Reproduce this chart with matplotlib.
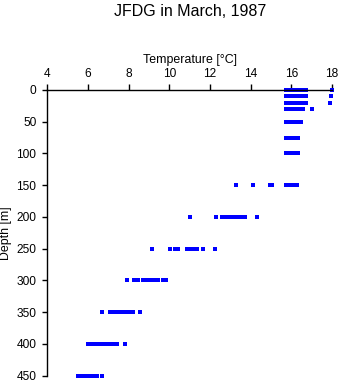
import matplotlib
matplotlib.use("Agg")
import matplotlib.pyplot as plt
import numpy as np

plt.rcParams['font.family'] = ['Liberation Sans', 'DejaVu Sans']

# Temperature profile samples (degC) at each depth level (m)
depths = [0, 10, 20, 30, 50, 75, 100, 150, 200, 250, 300, 350, 400, 450]

t_000 = [15.75, 15.85, 15.95, 16.05, 16.15, 16.25, 16.35, 16.5, 16.7, 18.0]
t_010 = [15.75, 15.82, 15.9, 15.97, 16.05, 16.12, 16.2, 16.27, 16.35, 16.5, 16.7, 17.95]
t_020 = [15.75, 15.85, 15.95, 16.05, 16.15, 16.25, 16.35, 16.5, 16.7, 17.9]
t_030 = [15.75, 15.85, 15.95, 16.05, 16.15, 16.25, 16.38, 16.5, 16.58, 17.0]
t_050 = [15.75, 15.85, 15.95, 16.05, 16.15, 16.25, 16.35, 16.45]
t_075 = [15.75, 15.85, 15.95, 16.05, 16.15, 16.25, 16.35]
t_100 = [15.75, 15.85, 15.95, 16.05, 16.15, 16.25, 16.35]
t_150 = [13.3, 14.1, 14.95, 15.05, 15.72, 15.82, 15.92, 16.02, 16.12, 16.22, 16.28]
t_200 = [11.0, 12.3, 12.6, 12.7, 12.85, 12.95, 13.1, 13.2, 13.35, 13.45, 13.6, 13.7, 14.3]
t_250 = [9.12, 10.05, 10.25, 10.4, 10.85, 11.0, 11.15, 11.25, 11.38, 11.63, 12.22]
t_300 = [7.9, 8.25, 8.45, 8.7, 8.8, 8.9, 9.0, 9.1, 9.2, 9.3, 9.45, 9.7, 9.85]
t_350 = [6.7, 7.1, 7.28, 7.38, 7.5, 7.62, 7.78, 7.9, 8.0, 8.1, 8.22, 8.53]
t_400 = [6.0, 6.2, 6.3, 6.4, 6.5, 6.62, 6.8, 6.9, 7.02, 7.2, 7.4, 7.8]
t_450 = [5.5, 5.6, 5.7, 5.8, 5.9, 6.0, 6.15, 6.3, 6.45, 6.7]

profiles = [t_000, t_010, t_020, t_030, t_050, t_075, t_100,
            t_150, t_200, t_250, t_300, t_350, t_400, t_450]

x_ticks = [4, 6, 8, 10, 12, 14, 16, 18]
y_ticks = [0, 50, 100, 150, 200, 250, 300, 350, 400, 450]

W, H = 341, 384
fig = plt.figure(figsize=(W / 100, H / 100), dpi=100)
left, right, top, bottom = 47.5, 332.0, 90.0, 375.5
ax = fig.add_axes([left / W, 1 - bottom / H, (right - left) / W, (bottom - top) / H])

for d, temps in zip(depths, profiles):
    ax.plot(temps, [d] * len(temps), linestyle='none', marker='s',
            markersize=2.2, markeredgewidth=0, color='#0000ff',
            antialiased=False, clip_on=False)

ax.set_xlim(4, 18)
ax.set_ylim(450, 0)
ax.set_xticks(x_ticks)
ax.set_yticks(y_ticks)

ax.xaxis.set_ticks_position('top')
ax.xaxis.set_label_position('top')
for side in ('right', 'bottom'):
    ax.spines[side].set_visible(False)
for side in ('top', 'left'):
    ax.spines[side].set_linewidth(1.0)
    ax.spines[side].set_color('black')

ax.tick_params(axis='x', direction='out', length=4, width=1, pad=3.2, labelsize=8.6)
ax.tick_params(axis='y', direction='out', length=3.5, width=1, pad=4.5, labelsize=8.6)

ax.set_xlabel('Temperature [\u00b0C]', fontsize=8.9, labelpad=3.5)
ax.set_ylabel('Depth [m]', fontsize=8.9, labelpad=3)

fig.text((left + right) / 2 / W, 1 - 12 / H, 'JFDG in March, 1987',
         ha='center', va='center', fontsize=11.5)

fig.savefig('out.png', dpi=100)
